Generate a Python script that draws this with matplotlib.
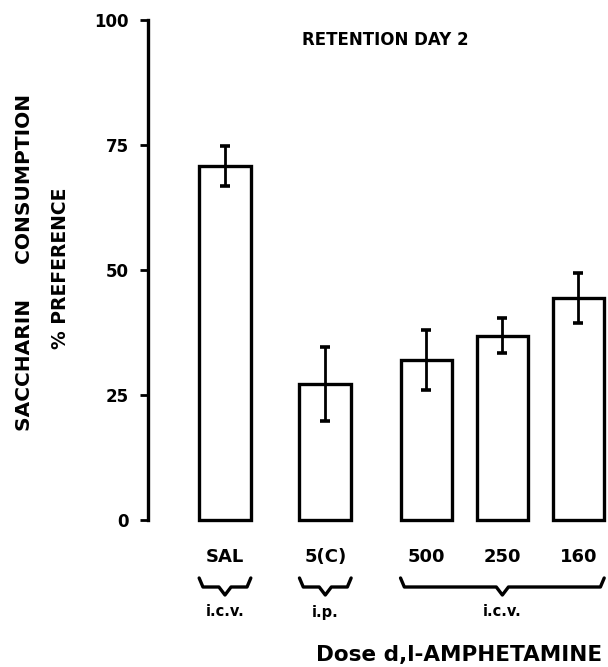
import matplotlib
matplotlib.use('Agg')
import matplotlib.pyplot as plt
from matplotlib.transforms import blended_transform_factory

# Dose groups and % preference (retention day 2)
groups = ['SAL', '5(C)', '500', '250', '160']
pref = [70.8, 27.2, 32.1, 36.9, 44.4]
err = [4.0, 7.4, 6.0, 3.5, 5.0]
routes = ['i.c.v.', 'i.p.', 'i.c.v.']
route_members = [[0], [1], [2, 3, 4]]
yticks = [0, 25, 50, 75, 100]

# layout
xpos = [0, 1.32, 2.65, 3.65, 4.65]
width = 0.68

plt.rcParams['font.family'] = 'DejaVu Sans'
plt.rcParams['font.weight'] = 'bold'

fig = plt.figure(figsize=(6.08, 6.67), dpi=100)
ax = fig.add_axes([148 / 608, 147 / 667, 460 / 608, 500 / 667])

bars = ax.bar(xpos, pref, width, color='white', edgecolor='black', linewidth=2.4)
for b in bars:
    b.set_clip_on(False)
ax.errorbar(xpos, pref, yerr=err, fmt='none', ecolor='black',
            elinewidth=2, capsize=3.6, capthick=2.6, clip_on=False)

ax.set_ylim(0, 100)
ax.set_xlim(-1.013, 5.04)
ax.set_yticks(yticks)
ax.set_yticklabels([str(t) for t in yticks], fontsize=12, fontweight='bold')
ax.set_xticks([])
ax.tick_params(axis='y', length=6, width=2, pad=8)
for s in ['top', 'right', 'bottom']:
    ax.spines[s].set_visible(False)
ax.spines['left'].set_linewidth(2.4)
ax.spines['left'].set_bounds(0, 100)

tr = blended_transform_factory(ax.transData, ax.transAxes)

# category labels
for x, g in zip(xpos, groups):
    ax.text(x, -0.074, g, ha='center', va='center', transform=tr,
            fontsize=13, fontweight='bold')

# braces for route of administration
y_top, y_base, y_tip = -0.116, -0.134, -0.15
for members, r in zip(route_members, routes):
    x0 = xpos[members[0]] - width / 2
    x1 = xpos[members[-1]] + width / 2
    xm = (x0 + x1) / 2
    d = 0.08
    ax.plot([x0, x0 + 0.05, xm - d, xm, xm + d, x1 - 0.05, x1],
            [y_top, y_base, y_base, y_tip, y_base, y_base, y_top],
            color='black', lw=2.4, transform=tr, clip_on=False,
            solid_joinstyle='round', solid_capstyle='round')
    ax.text(xm, -0.184, r, ha='center', va='center', transform=tr,
            fontsize=10.5, fontweight='bold')

fig.text(302 / 608, 1 - 40 / 667, 'RETENTION DAY 2', ha='left', va='center',
         fontsize=12, fontweight='bold')
fig.text(459 / 608, 1 - 655 / 667, 'Dose d,l-AMPHETAMINE', ha='center',
         va='center', fontsize=15.5, fontweight='bold')

fig.text(25 / 608, 1 - 262 / 667, 'SACCHARIN     CONSUMPTION', rotation=90,
         ha='center', va='center', fontsize=14.5, fontweight='bold')
fig.text(60 / 608, 1 - 268 / 667, '% PREFERENCE', rotation=90,
         ha='center', va='center', fontsize=13.5, fontweight='bold')

fig.savefig('out.png', dpi=100)
